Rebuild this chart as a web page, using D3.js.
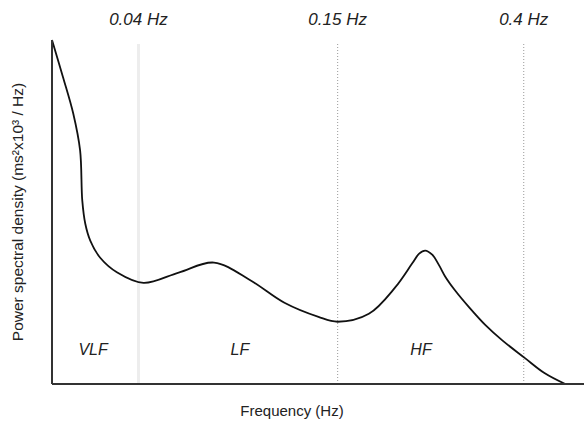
<!DOCTYPE html>
<html>
<head>
<meta charset="utf-8">
<script src="https://cdn.jsdelivr.net/npm/d3@7"></script>
<style>
  body { margin: 0; background: #fff; }
  svg { display: block; }
  text { font-family: "Liberation Sans", Arial, Helvetica, sans-serif; fill: #222; }
</style>
</head>
<body>
<div id="vis"></div>
<script>
// band limits and labels
const bandEdges = [0.04, 0.15, 0.4];
const bandEdgeLabels = ['0.04 Hz', '0.15 Hz', '0.4 Hz'];
const bandNames = ['VLF', 'LF', 'HF'];
const bandLabelFreq = [0.019, 0.096, 0.262];

// curve (frequency in Hz, PSD in relative units)
const freq = [0, 0.0051, 0.0098, 0.0130, 0.0140, 0.0154, 0.0177, 0.0223, 0.0302, 0.0428,
  0.0622, 0.0817, 0.1022, 0.1206, 0.1394, 0.15,
  0.1919, 0.2270, 0.25, 0.2595, 0.2676, 0.2770, 0.2865, 0.2946, 0.3081, 0.3270,
  0.3486, 0.3716, 0.4022, 0.4478, 0.496];
const psd = [100, 89.2, 78.7, 67.9, 53.4, 46.6, 41.7, 36.7, 32.4, 29.4,
  32.4, 35.3, 30.0, 23.6, 19.5, 18.1,
  20.4, 28.0, 35.0, 37.9, 38.8, 37.6, 34.4, 31.2, 27.1, 22.2,
  17.1, 12.6, 7.6, 3.2, 0];

const W = 584, H = 426;
const margin = { top: 40, right: 17, bottom: 42, left: 52 };
const width = W - margin.left - margin.right;
const height = H - margin.top - margin.bottom;

const $svg = d3.select('#vis').append('svg')
  .attr('width', W)
  .attr('height', H);

const $plot = $svg.append('g')
  .attr('transform', `translate(${margin.left}, ${margin.top})`);

// frequency axis is stretched per band, like the drawing
const x = d3.scaleLinear()
  .domain([0, 0.04, 0.15, 0.4, 0.5])
  .range([0, 0.1679, 0.5547, 0.9160, 1.0].map(p => p * width));
const y = d3.scaleLinear()
  .domain([0, 100])
  .range([height, 0]);

const data = freq.map((f, i) => ({ f, v: psd[i] }));

// band dividers
$plot.selectAll('.edge')
  .data(bandEdges)
  .enter()
  .append('line')
  .attr('class', 'edge')
  .attr('x1', d => x(d))
  .attr('x2', d => x(d))
  .attr('y1', 4)
  .attr('y2', height)
  .attr('stroke', (d, i) => i === 0 ? '#ededed' : '#999')
  .attr('stroke-width', (d, i) => i === 0 ? 3 : 1)
  .attr('stroke-dasharray', (d, i) => i === 0 ? null : '1,2');

$plot.selectAll('.edge-label')
  .data(bandEdges)
  .enter()
  .append('text')
  .attr('class', 'edge-label')
  .attr('x', d => x(d))
  .attr('y', -15)
  .attr('text-anchor', 'middle')
  .attr('font-size', 17)
  .attr('font-style', 'italic')
  .text((d, i) => bandEdgeLabels[i]);

const line = d3.line()
  .x(d => x(d.f))
  .y(d => y(d.v))
  .curve(d3.curveCatmullRom.alpha(0.5));

$plot.append('path')
  .datum(data)
  .attr('d', line)
  .attr('fill', 'none')
  .attr('stroke', '#111')
  .attr('stroke-width', 1.8);

$plot.selectAll('.band')
  .data(bandNames)
  .enter()
  .append('text')
  .attr('class', 'band')
  .attr('x', (d, i) => x(bandLabelFreq[i]))
  .attr('y', y(8.5))
  .attr('text-anchor', 'middle')
  .attr('font-size', 16)
  .attr('font-style', 'italic')
  .text(d => d);

// axes
$plot.append('line')
  .attr('x1', 0).attr('x2', 0)
  .attr('y1', 0).attr('y2', height)
  .attr('stroke', '#333')
  .attr('stroke-width', 2);

$plot.append('line')
  .attr('x1', 0).attr('x2', W - margin.left)
  .attr('y1', height).attr('y2', height)
  .attr('stroke', '#333')
  .attr('stroke-width', 2);

$svg.append('text')
  .attr('x', margin.left + 240)
  .attr('y', 416)
  .attr('text-anchor', 'middle')
  .attr('font-size', 15)
  .attr('fill', '#333')
  .text('Frequency (Hz)');

$svg.append('text')
  .attr('transform', `translate(23, ${margin.top + height / 2}) rotate(-90)`)
  .attr('text-anchor', 'middle')
  .attr('font-size', 15.5)
  .attr('fill', '#333')
  .text('Power spectral density (ms²x10³ / Hz)');
</script>
</body>
</html>
